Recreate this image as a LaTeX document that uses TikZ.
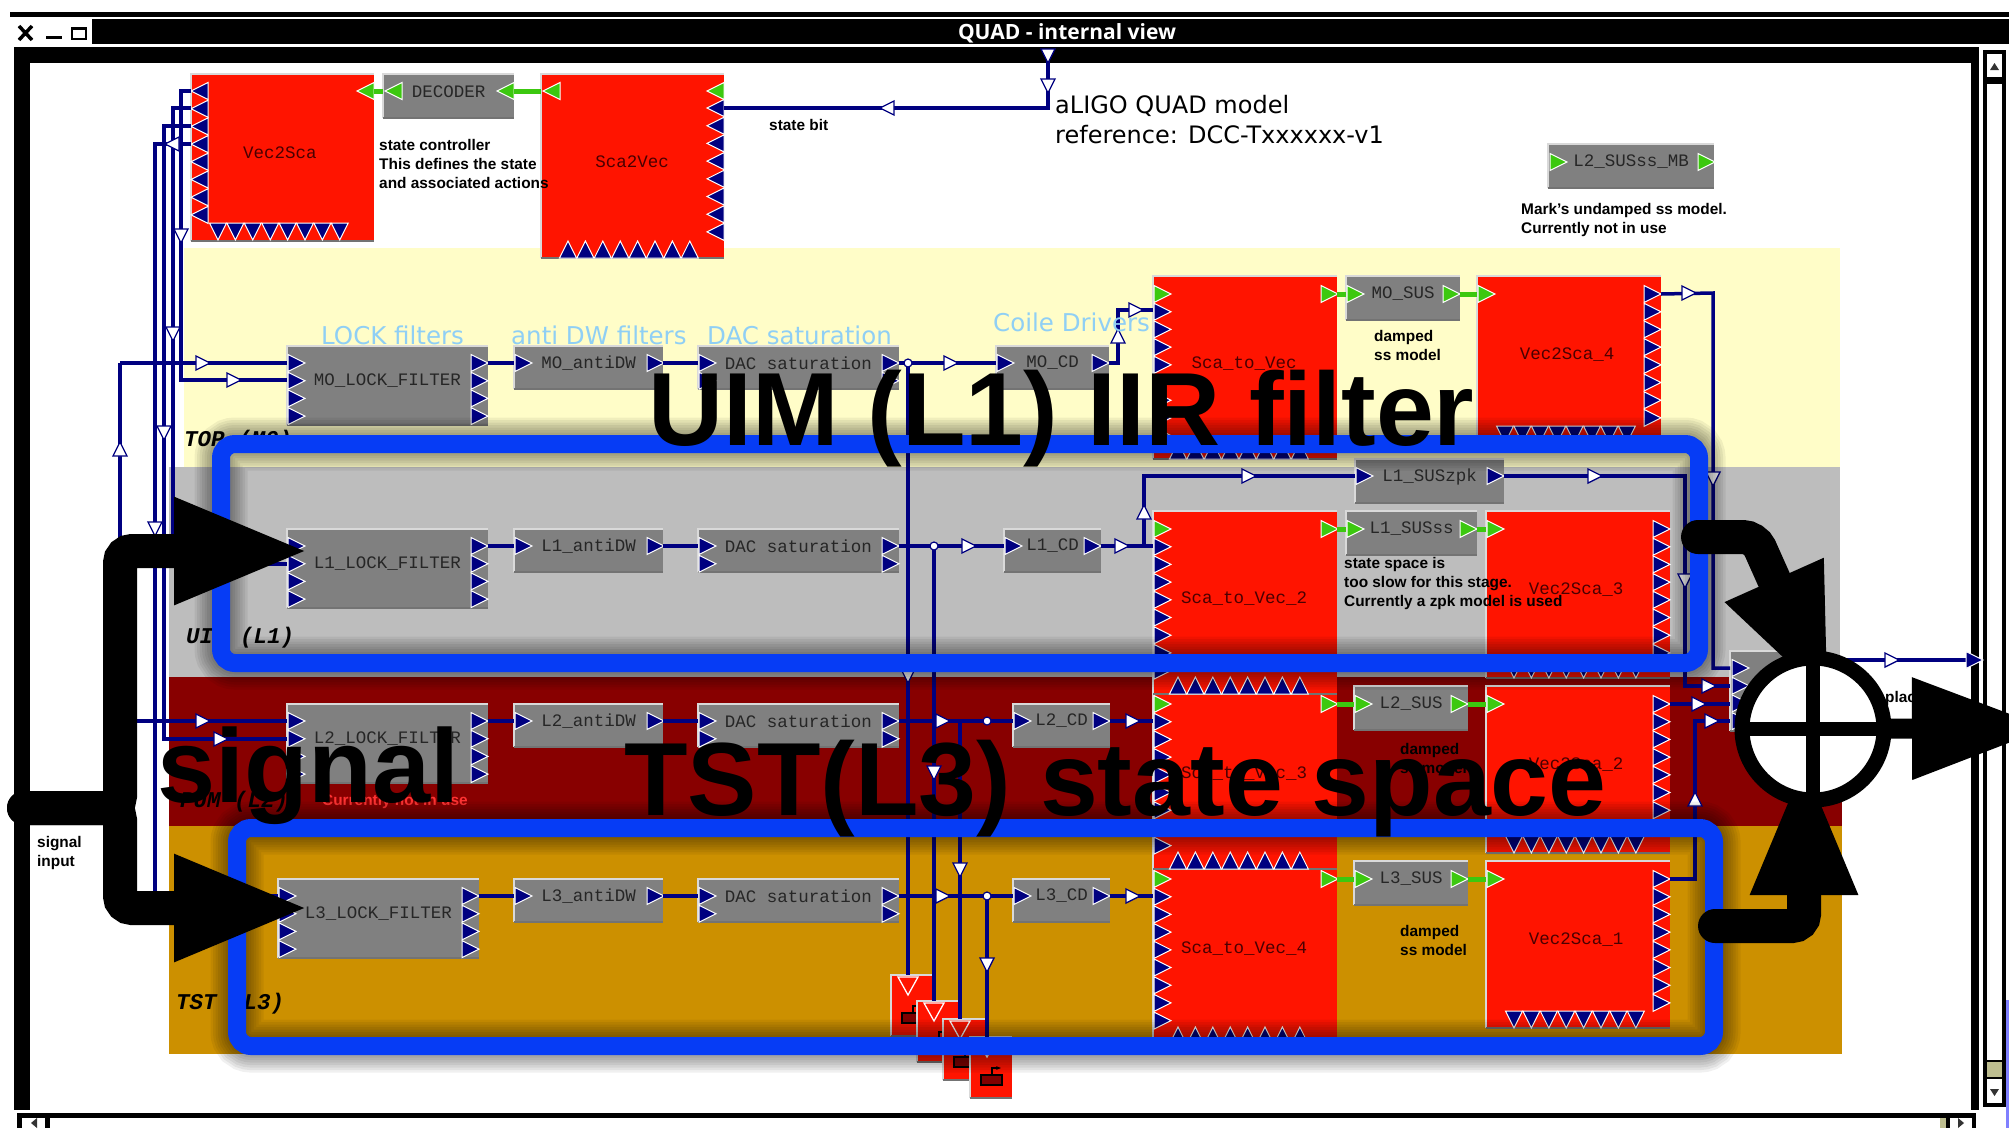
\documentclass[tikz,border=0pt]{standalone}
\usepackage{fontspec}
\setmainfont{Liberation Sans}
\setmonofont{Liberation Mono}
\newfontfamily\labelfont{DejaVu Sans}
\newfontfamily\titlefont{Open Sans}
\usetikzlibrary{fit,positioning,arrows.meta,calc}
\definecolor{wirenavy}{HTML}{000080}
\definecolor{portnavy}{HTML}{000080}
\definecolor{portgreen}{HTML}{3CC80F}
\definecolor{blockred}{HTML}{FF1400}
\definecolor{blockgray}{HTML}{808080}
\definecolor{framblue}{HTML}{063CF5}
\definecolor{textred}{HTML}{4A0000}
\definecolor{paneltop}{HTML}{FFFDC8}
\definecolor{panelgray}{HTML}{BDBDBD}
\definecolor{paneldark}{HTML}{880000}
\definecolor{panelgold}{HTML}{CC9000}
\definecolor{lblblue}{HTML}{8FCFF5}
\definecolor{thumbtan}{HTML}{BDBD8F}
\tikzset{
  pics/port/.style={code={\filldraw[draw=white,line width=1pt,fill=#1] (0,-8.5) -- (17,0) -- (0,8.5) -- cycle;}},
  pics/port/.default=portnavy,
  pics/flow/.style={code={\filldraw[draw=wirenavy,fill=white,line width=1.3pt] (-6,-7) -- (8,0) -- (-6,7) -- cycle;}},
  gblock/.style={fill=blockgray,inner sep=0pt,outer sep=0pt},
  redblock/.style={fill=blockred,inner sep=0pt,outer sep=0pt},
  gtext/.style={font=\ttfamily\fontsize{17.5}{20}\selectfont,text=black!85,inner sep=0pt},
  redtext/.style={font=\ttfamily\fontsize{17.5}{20}\selectfont,text=textred,inner sep=0pt},
  wire/.style={draw=wirenavy,line width=3.5pt},
  gwire/.style={draw=portgreen,line width=5pt},
  junc/.style={circle,draw=wirenavy,fill=white,line width=1.2pt,minimum size=8pt,inner sep=0pt},
  note/.style={font=\bfseries\fontsize{15.4}{19}\selectfont,align=left,anchor=west,inner sep=0pt},
  bluelbl/.style={font=\labelfont\fontsize{24.5}{26}\selectfont,text=lblblue,anchor=west,inner sep=0pt},
  stage/.style={font=\ttfamily\bfseries\itshape\fontsize{22.5}{26}\selectfont,anchor=west,inner sep=0pt},
  bigtext/.style={font=\bfseries\fontsize{104}{104}\selectfont,anchor=base west,inner sep=0pt},
  bigframe/.style={draw=framblue,line width=18pt,rounded corners=14pt,inner sep=0pt,outer sep=0pt},
  bigarrow/.style={black,line width=34pt,rounded corners=12pt,line cap=round,-{Triangle[length=137pt,width=97pt]}},
}
\newcommand{\blk}[6][gblock]{%
  \node[#1,minimum width={(#4-#2)*1pt},minimum height={(#5-#3)*1pt}] (#6) at ({(#2+#4)/2},{(#3+#5)/2}) {};
  \draw[white!85!black,line width=1.2pt] (#6.south west) -- (#6.north west) -- (#6.north east);
  \draw[black!55,line width=2pt] (#6.south west) -- (#6.south east);}
\newcommand{\gblk}[6]{\blk{#1}{#2}{#3}{#4}{#5}\node[gtext] (#5-t) at ([yshift=4.5pt]#5.center) {#6};}
\newcommand{\portcol}[4][0]{\foreach \i in {1,...,#4} \pic[rotate=#1] at (#2,{#3+17.7*(\i-1)}) {port};}
\newcommand{\portrow}[4][-90]{\foreach \i in {1,...,#4} \pic[rotate=#1] at ({#2+17.4*(\i-1)},#3) {port};}
\begin{document}
\begin{tikzpicture}[x=1pt,y=-1pt]
  \clip (0,0) rectangle (2009,1128);
  \fill[white] (0,0) rectangle (2009,1128);
  \fill[black] (10,12) rectangle (2009,17);
  \fill[black] (92,19) rectangle (2009,44);
  \fill[black] (14,47) rectangle (1979,1110);
  \fill[white] (30,63) rectangle (1971,1110);
  \draw[black,line width=3.5pt] (19,26) -- (32,40) (32,26) -- (19,40);
  \fill[black] (46,36) rectangle (62,39);
  \draw[black,line width=1.5pt] (72,28) rectangle (86,39);
  \fill[black] (71,27) rectangle (87,30);
  \node[font=\titlefont\bfseries\fontsize{21}{23}\selectfont,text=white,inner sep=0pt] (title) at (1067,33) {QUAD - internal view};
  \fill[black] (1983,50) rectangle (2006,1107);
  \fill[white] (1987,54) rectangle (2002,77);
  \fill[white] (1987,84) rectangle (2002,1060);
  \fill[black!80] (1990,70) -- (1999,70) -- (1994.5,63) -- cycle;
  \fill[thumbtan] (1987,1062) rectangle (2002,1077);
  \fill[white] (1987,1079) rectangle (2002,1103);
  \fill[black!80] (1990,1089) -- (1999,1089) -- (1994.5,1096) -- cycle;
  \fill[black] (17,1113) rectangle (1976,1128);
  \fill[white] (22,1118) rectangle (45,1128);
  \fill[white] (50,1118) rectangle (1940,1128);
  \fill[thumbtan] (1940,1118) rectangle (1946,1128);
  \fill[white] (1950,1118) rectangle (1972,1128);
  \fill[black!80] (37,1118) -- (37,1128) -- (31,1123) -- cycle;
  \fill[black!80] (1958,1118) -- (1958,1128) -- (1964,1123) -- cycle;
  \fill[blue!50!white] (2006,1000) rectangle (2009,1128);
  \fill[paneltop] (184,248) rectangle (1840,467);
  \fill[panelgray] (169,467) rectangle (1840,677);
  \fill[paneldark] (169,677) rectangle (1842,826);
  \fill[panelgold] (169,826) rectangle (1842,1054);
  \node[stage] (stagemo) at (184,441) {TOP (M0)};
  \node[stage] (stagela) at (186,638) {UIM (L1)};
  \node[stage] (stagelb) at (180,802) {PUM (L2)};
  \node[stage] (stagelc) at (176,1004) {TST (L3)};
  \blk[redblock]{191}{74}{374}{241}{vecsca}
  \node[redtext] (vecsca-t) at (280,153) {Vec2Sca};
  \portcol[180]{208}{91}{8}
  \portrow{218}{223}{8}
  \pic[rotate=180] at (374,91) {port=portgreen};
  \gblk{383}{74}{514}{118}{dec}{DECODER}
  \pic[rotate=180] at (402,91) {port=portgreen};
  \pic[rotate=180] at (514,91) {port=portgreen};
  \blk[redblock]{541}{74}{724}{258}{scavec}
  \node[redtext] (scavec-t) at (632,162) {Sca2Vec};
  \pic[rotate=180] at (560,91) {port=portgreen};
  \pic[rotate=180] at (724,91) {port=portgreen};
  \portcol[180]{724}{108}{8}
  \portrow[90]{568}{258}{8}
  \gblk{1548}{144}{1714}{188}{mbss}{L2\_SUSss\_MB}
  \pic at (1550,162) {port=portgreen};
  \pic at (1698,162) {port=portgreen};
  \foreach \n/\tp/\sn/\sw/\vx/\sca/\vn/\sus in {L3/861/1354/114/1486/Sca\_to\_Vec\_4/Vec2Sca\_1/L3\_SUS,L2/686/1354/114/1486/Sca\_to\_Vec\_3/Vec2Sca\_2/L2\_SUS,L1/511/1346/131/1486/Sca\_to\_Vec\_2/Vec2Sca\_3/L1\_SUSss,MO/276/1346/114/1477/Sca\_to\_Vec/Vec2Sca\_4/MO\_SUS}{
    \pgfmathsetmacro{\g}{\tp+18}
    \coordinate (g\n) at (0,\g);
    \blk[redblock]{1153}{\tp}{1337}{\tp+183}{\n-sca}
    \node[redtext] (\n-sca-t) at (1244,\tp+88) {\sca};
    \portcol{1154}{\g+17.7}{8}
    \portrow[90]{1178}{\tp+183}{8}
    \pic at (1154,\g) {port=portgreen};
    \pic at (1321,\g) {port=portgreen};
    \blk[redblock]{\vx}{\tp}{\vx+184}{\tp+167}{\n-vec}
    \node[redtext] (\n-vec-t) at (\vx+90,\tp+79) {\vn};
    \portcol{\vx+167}{\g}{8}
    \portrow{\vx+28}{\tp+150}{8}
    \pic at (\vx+1,\g) {port=portgreen};
    \gblk{\sn}{\tp}{\sn+\sw}{\tp+44}{\n-sus}{\sus}
    \pic at (\sn+1,\g) {port=portgreen};
    \pic at (\sn+\sw-17,\g) {port=portgreen};
    \draw[gwire] (\n-sca.east |- g\n) -- (\n-sus.west |- g\n);
    \draw[gwire] (\n-sus.east |- g\n) -- (\n-vec.west |- g\n);
  }
  \draw[gwire] (dec.east |- 0,91) -- (scavec.west |- 0,91);
  \draw[gwire] (vecsca.east |- 0,91) -- (dec.west |- 0,91);
  \gblk{1355}{459}{1504}{503}{L1-zpk}{L1\_SUSzpk}
  \pic at (1356,476) {port};
  \pic at (1487,476) {port};
  \gblk{1730}{651}{1800}{731}{sum}{}
  \portcol{1732}{668}{4}
  \foreach \k/\x/\y in {1/891/975,2/917/1001,3/943/1019,4/970/1037}{
    \blk[redblock]{\x}{\y}{\x+42}{\y+61}{trig\k}
    \filldraw[draw=white,fill=blockred,line width=1.3pt] (\x+7,\y+2) -- (\x+27,\y+2) -- (\x+17,\y+20) -- cycle;
    \filldraw[draw=black,fill=red!50!black,line width=1.3pt] (\x+11,\y+38) rectangle (\x+32,\y+48);
    \draw[black,line width=1.6pt,-{Stealth[length=5pt]}] (\x+22,\y+38) -- (\x+22,\y+31) -- (\x+31,\y+31);
  }
  \coordinate (bus) at (120,0);
  \foreach \n/\y/\lx/\cx/\cw in {MO/346/287/996/113,L1/529/287/1004/97,L2/704/287/1013/97,L3/879/278/1013/97}{
    \coordinate (r\n) at (0,\y+17);
    \gblk{\lx}{\y}{\lx+201}{\y+79}{\n-lock}{\n\_LOCK\_FILTER}
    \portcol{\lx+1}{\y+17}{4}
    \portcol{\lx+184}{\y+17}{4}
    \gblk{514}{\y}{663}{\y+43}{\n-anti}{\n\_antiDW}
    \pic at (515,\y+17) {port};
    \pic at (647,\y+17) {port};
    \gblk{698}{\y}{899}{\y+43}{\n-dac}{DAC saturation}
    \portcol{699}{\y+17}{2}
    \portcol{882}{\y+17}{2}
    \gblk{\cx}{\y}{\cx+\cw}{\y+43}{\n-cd}{\n\_CD}
    \pic at (\cx+1,\y+17) {port};
    \pic at (\cx+\cw-17,\y+17) {port};
    \draw[wire] (\n-lock.east |- r\n) -- (\n-anti.west |- r\n);
    \draw[wire] (\n-anti.east |- r\n) -- (\n-dac.west |- r\n);
    \draw[wire] (\n-dac.east |- r\n) -- (\n-cd.west |- r\n);
    \draw[wire] (bus |- r\n) -- (\n-lock.west |- r\n);
  }
  \foreach \n in {L1,L2,L3} \draw[wire] (\n-cd.east |- r\n) -- (\n-sca.west |- r\n);
  \draw[wire] (bus |- rMO) -- (bus |- rL3);
  \coordinate (statebit) at (1048,108);
  \coordinate (stateup) at (1048,55);
  \draw[wire] (scavec.east |- statebit) -- (statebit) -- (stateup);
  \foreach \x/\y/\ey/\n in {181/91/380/MO,173/108/564/L1,164/126/739/L2,155/144/914/L3}
    \draw[wire] (vecsca.west |- 0,\y) -- (\x,\y) -- (\x,\ey) -- (\n-lock.west |- 0,\ey);
  \coordinate (jmo) at (908,363);
  \coordinate (jla) at (934,546);
  \coordinate (jlb) at (960,721);
  \coordinate (jlc) at (987,896);
  \coordinate (jlbdot) at (987,721);
  \draw[wire] (jmo) -- (jmo |- trig1.north);
  \draw[wire] (jla) -- (jla |- trig2.north);
  \draw[wire] (jlb) -- (jlb |- trig3.north);
  \draw[wire] (jlc) -- (jlc |- trig4.north);
  \draw[wire] (MO-cd.east |- rMO) -- (1118,363) -- (1118,310) -- (MO-sca.west |- 0,310);
  \draw[wire] (1144,546) -- (1144,476) -- (L1-zpk.west |- 0,476);
  \draw[wire] (L1-zpk.east |- 0,476) -- (1685,476) -- (1685,686) -- (sum.west |- 0,686);
  \draw[wire] (MO-vec.east |- gMO) -- (1713,293) -- (1713,668) -- (sum.west |- 0,668);
  \draw[wire] (L2-vec.east |- gL2) -- (sum.west |- gL2);
  \draw[wire] (L3-vec.east |- gL3) -- (1695,879) -- (1695,721) -- (sum.west |- 0,721);
  \coordinate (outport) at (1966,660);
  \draw[wire] (sum.east |- outport) -- (outport);
  \pic at (outport) {port};
  \foreach \x/\y in {202/363,233/380,202/721,220/739,950/363,968/546,942/721,942/896,1135/310,1121/546,1132/721,1132/896,1248/476,1594/476,1688/293,1708/686,1698/704,1711/721,1891/660}
    \pic at (\x,\y) {flow};
  \foreach \x/\y in {1048/55,1048/85,181/235,173/333,164/432,155/528,1713/478,1685/580,908/675,934/772,960/869,987/964}
    \pic[rotate=-90] at (\x,\y) {flow};
  \foreach \x/\y in {120/450,1118/337,1144/513,1695/800}
    \pic[rotate=90] at (\x,\y) {flow};
  \foreach \x/\y in {888/108,173/144}
    \pic[rotate=180] at (\x,\y) {flow};
  \node[junc] (jmodot) at (jmo) {};
  \node[junc] (jladot) at (jla) {};
  \node[junc] (jlbmark) at (jlbdot) {};
  \node[junc] (jlcdot) at (jlc) {};
  \node[note] (ctrl) at (379,164) {state controller\\This defines the state\\and associated actions};
  \node[note] (bit) at (769,125) {state bit};
  \node[note] (mark) at (1521,220) {Mark's undamped ss model.\\Currently not in use};
  \node[note] (dampmo) at (1374,345) {damped\\ss model};
  \node[note] (dampla) at (1344,584) {state space is\\too slow for this stage.\\Currently a zpk model is used};
  \node[note] (damplb) at (1400,758) {damped\\ss model};
  \node[note] (damplc) at (1400,940) {damped\\ss model};
  \node[note,text=red!80!white] (unused) at (322,802) {Currently not in use};
  \node[note] (siginput) at (37,853) {signal\\input};
  \node[note] (placed) at (1885,699) {plac};
  \node[font=\labelfont\fontsize{24}{30}\selectfont,align=left,anchor=west,inner sep=0pt] (model) at (1055,119.5) {aLIGO QUAD model\\reference: DCC-Txxxxxx-v1};
  \node[bluelbl] (lbllock) at (321,335) {LOCK filters};
  \node[bluelbl] (lblanti) at (511,335) {anti DW filters};
  \node[bluelbl] (lbldac) at (707,335) {DAC saturation};
  \node[bluelbl] (lblcoil) at (993,322) {Coile Drivers};
  \coordinate (uimtl) at (221,444);
  \coordinate (uimbr) at (1699,663);
  \coordinate (tsttl) at (237,828);
  \coordinate (tstbr) at (1714,1046);
  \foreach \s in {0,5,...,35}{
    \draw[black,opacity=.06,line width={18pt+\s pt},rounded corners=14pt,shift={(12,12)}] (uimtl) rectangle (uimbr);
    \draw[black,opacity=.06,line width={18pt+\s pt},rounded corners=14pt,shift={(12,12)}] (tsttl) rectangle (tstbr);
  }
  \node[bigframe,fit=(uimtl) (uimbr)] (uimframe) {};
  \node[bigframe,fit=(tsttl) (tstbr)] (tstframe) {};
  \node[bigtext] (uimtxt) at (648,445) {UIM (L1) IIR filter};
  \node[bigtext] (tsttxt) at (624,815) {TST(L3) state space};
  \node[bigtext,font=\bfseries\fontsize{104.5}{104.5}\selectfont] (sigtxt) at (157,802) {signal};
  \coordinate (sigin) at (24,808);
  \coordinate (sigtop) at (311,551);
  \coordinate (sigbot) at (311,908);
  \draw[bigarrow] (sigin) -- (120,808) -- (120,551) -- (sigtop);
  \draw[bigarrow] (sigin) -- (120,808) -- (120,908) -- (sigbot);
  \coordinate (uimout) at (1698,537);
  \coordinate (uimtip) at (1830,705);
  \coordinate (tstout) at (1715,926);
  \coordinate (tsttip) at (1804,758);
  \coordinate (sumout) at (2049,728);
  \draw[bigarrow] (uimout) -- (1755,537) -- (uimtip);
  \draw[bigarrow] (tstout) -- (1804,926) -- (tsttip);
  \draw[bigarrow,line width=20pt] (1813,729) -- (sumout);
  \node[circle,draw=black,fill=white,line width=15pt,minimum size=142pt,inner sep=0pt] (plus) at (1813,729) {};
  \draw[black,line width=14pt] (plus.north) -- (plus.south);
  \draw[black,line width=14pt] (plus.west) -- (plus.east);
\end{tikzpicture}
\end{document}
